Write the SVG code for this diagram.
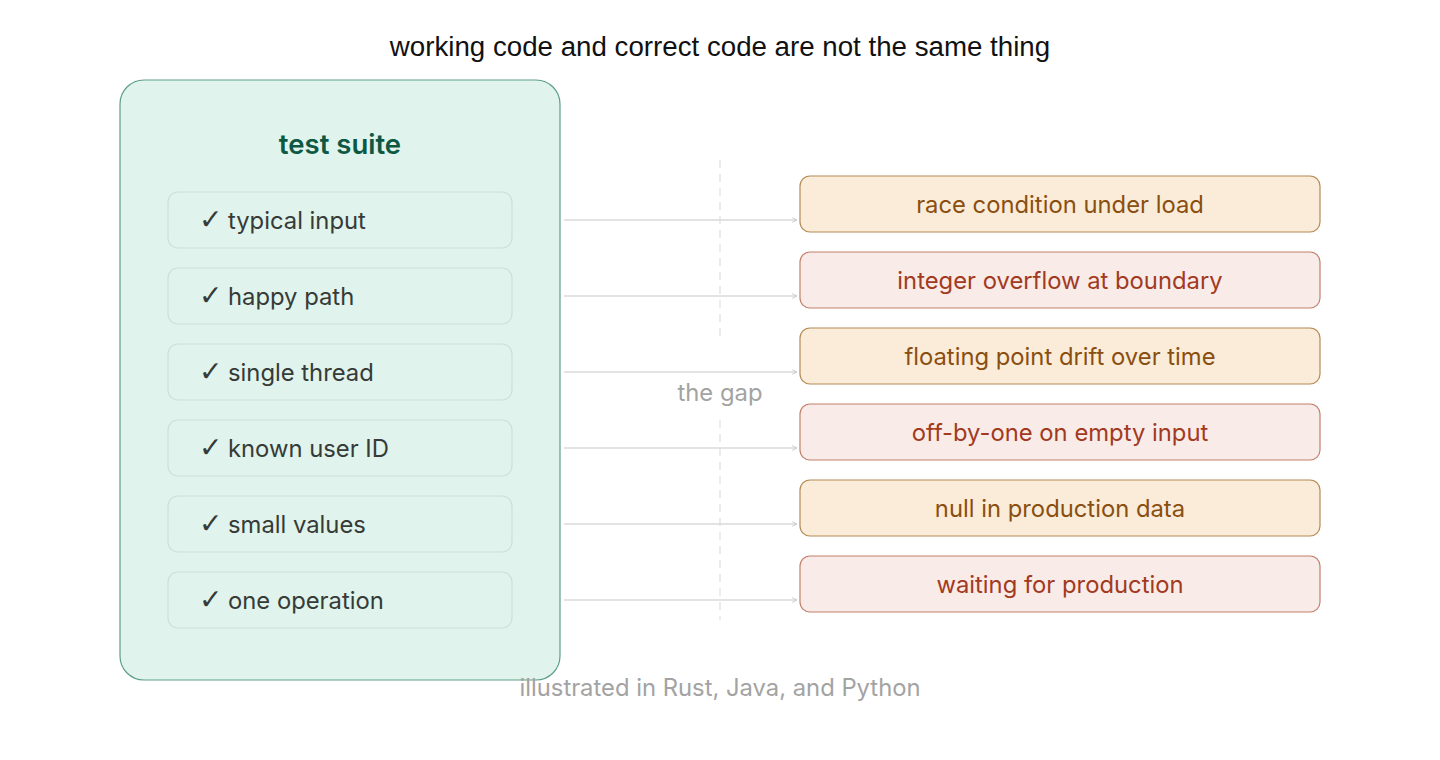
<svg xmlns="http://www.w3.org/2000/svg" width="1440" height="760" viewBox="0 0 1440 760">
<defs>
<marker id="arr" viewBox="0 0 10 10" refX="9" refY="5" markerWidth="6" markerHeight="6" markerUnits="userSpaceOnUse" orient="auto">
<path d="M1,1 L9,5 L1,9" fill="none" stroke="#c8c8c8" stroke-width="1.5"/>
</marker>
<style>
.title{font-family:"Liberation Sans",Arial,sans-serif;font-size:27.7px;fill:#111;text-anchor:middle}
.suite{fill:#e0f3ec;stroke:#5e9f86;stroke-width:1.2}
.suiteT{font-family:Inter,"Noto Sans",sans-serif;font-size:27.5px;font-weight:600;fill:#0d5843;text-anchor:middle}
.item{fill:#e0f3ec;stroke:#cbe1d8;stroke-width:1.2}
.itemT{font-family:Inter,"Noto Sans",sans-serif;font-size:23.8px;fill:#363b38}
.ck{font-family:"DejaVu Sans",sans-serif;font-size:28px}
.conn{stroke:#dadada;stroke-width:1.5;fill:none}
.gap{stroke:#e6e6e6;stroke-width:1.5;stroke-dasharray:8 6;fill:none}
.gapT{font-family:Inter,"Noto Sans",sans-serif;font-size:23.8px;fill:#a3a3a3;text-anchor:middle}
.org{fill:#faecd9;stroke:#b48a55;stroke-width:1.2}
.orgT{font-family:Inter,"Noto Sans",sans-serif;font-size:23.8px;fill:#8a4f10;text-anchor:middle}
.red{fill:#f9ebe7;stroke:#c2806b;stroke-width:1.2}
.redT{font-family:Inter,"Noto Sans",sans-serif;font-size:23.8px;fill:#a23a1f;text-anchor:middle}
.foot{font-family:Inter,"Noto Sans",sans-serif;font-size:23.8px;fill:#a3a3a3;text-anchor:middle}
</style>
</defs>
<rect width="1440" height="760" fill="#ffffff"/>
<text class="title" x="720" y="56">working code and correct code are not the same thing</text>

<g id="gap">
<line class="gap" x1="720" y1="160" x2="720" y2="336"/>
<line class="gap" x1="720" y1="420" x2="720" y2="620"/>
<text class="gapT" x="720" y="401">the gap</text>
</g>

<g id="test-suite">
<rect class="suite" x="120" y="80" width="440" height="600" rx="24"/>
<text class="suiteT" x="340" y="154">test suite</text>
</g>
<g id="t1"><rect class="item" x="168" y="192" width="344" height="56" rx="10"/><text class="itemT" x="199" y="229"><tspan class="ck">✓</tspan><tspan x="228">typical input</tspan></text></g>
<g id="t2"><rect class="item" x="168" y="268" width="344" height="56" rx="10"/><text class="itemT" x="199" y="305"><tspan class="ck">✓</tspan><tspan x="228">happy path</tspan></text></g>
<g id="t3"><rect class="item" x="168" y="344" width="344" height="56" rx="10"/><text class="itemT" x="199" y="381"><tspan class="ck">✓</tspan><tspan x="228">single thread</tspan></text></g>
<g id="t4"><rect class="item" x="168" y="420" width="344" height="56" rx="10"/><text class="itemT" x="199" y="457"><tspan class="ck">✓</tspan><tspan x="228">known user ID</tspan></text></g>
<g id="t5"><rect class="item" x="168" y="496" width="344" height="56" rx="10"/><text class="itemT" x="199" y="533"><tspan class="ck">✓</tspan><tspan x="228">small values</tspan></text></g>
<g id="t6"><rect class="item" x="168" y="572" width="344" height="56" rx="10"/><text class="itemT" x="199" y="609"><tspan class="ck">✓</tspan><tspan x="228">one operation</tspan></text></g>

<g id="connectors">
<line class="conn" x1="564" y1="220" x2="797" y2="220" marker-end="url(#arr)"/>
<line class="conn" x1="564" y1="296" x2="797" y2="296" marker-end="url(#arr)"/>
<line class="conn" x1="564" y1="372" x2="797" y2="372" marker-end="url(#arr)"/>
<line class="conn" x1="564" y1="448" x2="797" y2="448" marker-end="url(#arr)"/>
<line class="conn" x1="564" y1="524" x2="797" y2="524" marker-end="url(#arr)"/>
<line class="conn" x1="564" y1="600" x2="797" y2="600" marker-end="url(#arr)"/>
</g>

<g id="b1"><rect class="org" x="800" y="176" width="520" height="56" rx="10"/><text class="orgT" x="1060" y="213">race condition under load</text></g>
<g id="b2"><rect class="red" x="800" y="252" width="520" height="56" rx="10"/><text class="redT" x="1060" y="289">integer overflow at boundary</text></g>
<g id="b3"><rect class="org" x="800" y="328" width="520" height="56" rx="10"/><text class="orgT" x="1060" y="365">floating point drift over time</text></g>
<g id="b4"><rect class="red" x="800" y="404" width="520" height="56" rx="10"/><text class="redT" x="1060" y="441">off-by-one on empty input</text></g>
<g id="b5"><rect class="org" x="800" y="480" width="520" height="56" rx="10"/><text class="orgT" x="1060" y="517">null in production data</text></g>
<g id="b6"><rect class="red" x="800" y="556" width="520" height="56" rx="10"/><text class="redT" x="1060" y="593">waiting for production</text></g>

<text class="foot" x="720" y="696">illustrated in Rust, Java, and Python</text>
</svg>
